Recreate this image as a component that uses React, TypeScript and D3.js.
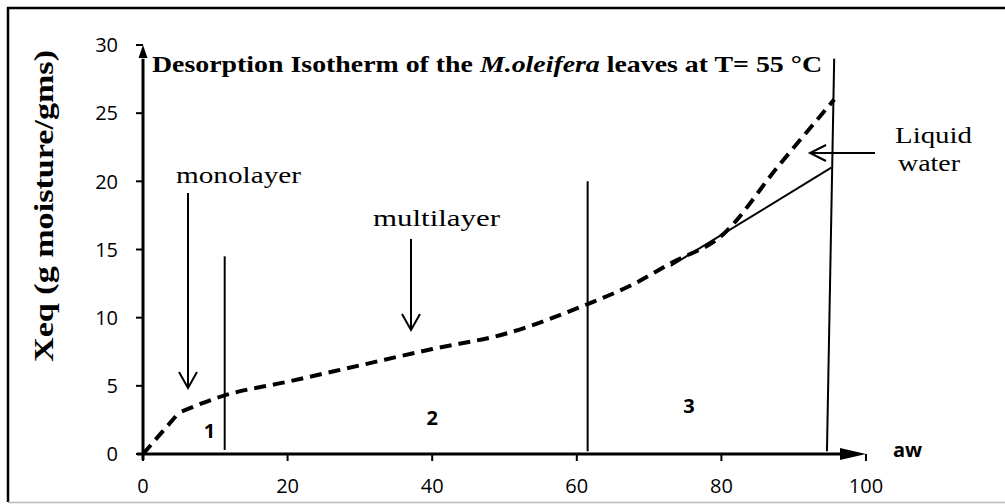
import React from "react";
import * as d3 from "d3";

const W = 1005;
const H = 504;

// Desorption isotherm (dashed curve): initial straight rise, then smooth part
const awValues = [0, 5, 11.3, 20, 30, 40, 50, 61.5, 68, 73, 80, 88, 95.6];
const xeqValues = [0, 3.05, 4.3, 5.3, 6.5, 7.7, 8.8, 11.0, 12.5, 14.0, 16.0, 21.2, 26.0];
const kinkIndex = 1;

// Liquid water line (solid)
const liquidAw = [73, 95.2];
const liquidXeq = [13.8, 21.0];

// Zone boundary lines
const boundaries = [
  { awBottom: 11.3, awTop: 11.3, y0: 0.3, y1: 14.5 },
  { awBottom: 61.5, awTop: 61.5, y0: 0.2, y1: 20 },
  { awBottom: 94.6, awTop: 95.6, y0: 0.2, y1: 29 },
];

const xTicks = [0, 20, 40, 60, 80, 100];
const yTicks = [0, 5, 10, 15, 20, 25, 30];

const zoneLabels = [
  { label: "1", aw: 9.2, xeq: 1.2 },
  { label: "2", aw: 40, xeq: 2.1 },
  { label: "3", aw: 75.5, xeq: 3.0 },
];

export default function App() {
  const x = d3.scaleLinear().domain([0, 100]).range([143, 866]);
  const y = d3.scaleLinear().domain([0, 30]).range([454, 45]);

  const pts: [number, number][] = awValues.map((a, i) => [a, xeqValues[i]]);
  const lineLinear = d3
    .line<[number, number]>()
    .x((d) => x(d[0]))
    .y((d) => y(d[1]));
  const lineSmooth = d3
    .line<[number, number]>()
    .x((d) => x(d[0]))
    .y((d) => y(d[1]))
    .curve(d3.curveMonotoneX);

  const firstPart = lineLinear(pts.slice(0, kinkIndex + 1));
  const restPart = lineSmooth(pts.slice(kinkIndex));

  const liquid = lineLinear(liquidAw.map((a, i) => [a, liquidXeq[i]] as [number, number]));

  const serif = "'Liberation Serif', 'Times New Roman', serif";
  const sans = "'Open Sans', 'Noto Sans', sans-serif";

  const x0 = x(0);
  const y0 = y(0);

  return (
    <svg
      width={W}
      height={H}
      style={{ position: "absolute", left: 0, top: 0, background: "#fff" }}
    >
      {/* frame */}
      <rect x={0} y={0} width={W} height={H} fill="#fff" />
      <line x1={7} y1={8} x2={W} y2={8} stroke="#000" strokeWidth={2.5} />
      <line x1={8} y1={7} x2={8} y2={502} stroke="#000" strokeWidth={2.5} />
      <line x1={8} y1={502.5} x2={W} y2={502.5} stroke="#bbb" strokeWidth={1.5} />

      {/* y axis */}
      <line x1={x0} y1={y0 + 6} x2={x0} y2={y(29)} stroke="#000" strokeWidth={3} />
      <path
        d={`M${x0},${y(30)} L${x0 - 4.5},${y(30) + 13} L${x0 + 4.5},${y(30) + 13} Z`}
        fill="#000"
      />
      {yTicks.map((t) => (
        <g key={"y" + t}>
          <line x1={x0 - 7} x2={x0} y1={y(t)} y2={y(t)} stroke="#000" strokeWidth={2} />
          <text
            x={118}
            y={y(t)}
            dy="0.36em"
            textAnchor="end"
            fontFamily={sans}
            fontSize={20}
            fill="#000"
          >
            {t}
          </text>
        </g>
      ))}

      {/* x axis */}
      <line x1={x0 - 6} y1={y0} x2={x(97)} y2={y0} stroke="#000" strokeWidth={3} />
      <path
        d={`M${x(100)},${y0} L${x(100) - 26},${y0 - 6} L${x(100) - 26},${y0 + 6} Z`}
        fill="#000"
      />
      {xTicks.map((t) => (
        <g key={"x" + t}>
          <line x1={x(t)} x2={x(t)} y1={y0} y2={y0 + 7} stroke="#000" strokeWidth={2} />
          <text
            x={x(t)}
            y={493}
            textAnchor="middle"
            fontFamily={sans}
            fontSize={20}
            fill="#000"
          >
            {t}
          </text>
        </g>
      ))}
      <text x={893} y={457} fontFamily={sans} fontWeight="bold" fontSize={20} fill="#000">
        aw
      </text>

      {/* y label */}
      <text
        transform={`translate(53,206) rotate(-90)`}
        textAnchor="middle"
        fontFamily={serif}
        fontWeight="bold"
        fontSize={27}
        textLength={312}
        lengthAdjust="spacingAndGlyphs"
        fill="#000"
      >
        Xeq (g moisture/gms)
      </text>

      {/* title */}
      <text
        x={152}
        y={72}
        fontFamily={serif}
        fontWeight="bold"
        fontSize={23}
        textLength={670}
        lengthAdjust="spacingAndGlyphs"
        fill="#000"
      >
        Desorption Isotherm of the <tspan fontStyle="italic">M.oleifera</tspan> leaves at T= 55 °C
      </text>

      {/* boundaries */}
      {boundaries.map((b, i) => (
        <line
          key={"b" + i}
          x1={x(b.awBottom)}
          y1={y(b.y0)}
          x2={x(b.awTop)}
          y2={y(b.y1)}
          stroke="#000"
          strokeWidth={2}
        />
      ))}

      {/* liquid water solid line */}
      <path d={liquid || ""} fill="none" stroke="#000" strokeWidth={2} />

      {/* isotherm curve */}
      <path
        d={firstPart || ""}
        fill="none"
        stroke="#000"
        strokeWidth={4}
        strokeDasharray="12 7"
      />
      <path
        d={restPart || ""}
        fill="none"
        stroke="#000"
        strokeWidth={4}
        strokeDasharray="12 7"
        strokeDashoffset={-3}
      />

      {/* annotations */}
      <text
        x={176}
        y={183}
        fontFamily={serif}
        fontSize={24}
        textLength={125}
        lengthAdjust="spacingAndGlyphs"
        fill="#000"
      >
        monolayer
      </text>
      <line x1={188} y1={193} x2={188} y2={388} stroke="#000" strokeWidth={2} />
      <path d="M179,372 L188,388 L197,372" fill="none" stroke="#000" strokeWidth={2} />

      <text
        x={373}
        y={226}
        fontFamily={serif}
        fontSize={24}
        textLength={127}
        lengthAdjust="spacingAndGlyphs"
        fill="#000"
      >
        multilayer
      </text>
      <line x1={411} y1={239} x2={411} y2={330} stroke="#000" strokeWidth={2} />
      <path d="M402,314 L411,330 L420,314" fill="none" stroke="#000" strokeWidth={2} />

      <text
        x={895}
        y={143}
        fontFamily={serif}
        fontSize={24}
        textLength={77}
        lengthAdjust="spacingAndGlyphs"
        fill="#000"
      >
        Liquid
      </text>
      <text
        x={898}
        y={171}
        fontFamily={serif}
        fontSize={24}
        textLength={62}
        lengthAdjust="spacingAndGlyphs"
        fill="#000"
      >
        water
      </text>
      <line x1={875} y1={153} x2={810} y2={153} stroke="#000" strokeWidth={2} />
      <path d="M826,145 L810,153 L826,161" fill="none" stroke="#000" strokeWidth={2} />

      {zoneLabels.map((z) => (
        <text
          key={z.label}
          x={x(z.aw)}
          y={y(z.xeq)}
          textAnchor="middle"
          fontFamily={sans}
          fontWeight="bold"
          fontSize={20}
          fill="#000"
        >
          {z.label}
        </text>
      ))}
    </svg>
  );
}
